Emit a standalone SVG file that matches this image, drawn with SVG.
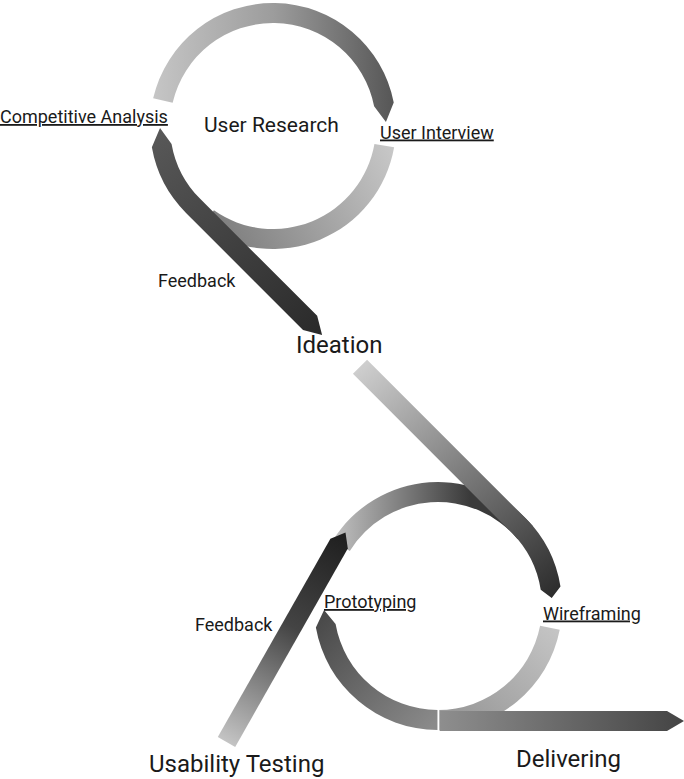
<svg xmlns="http://www.w3.org/2000/svg" width="684" height="779" viewBox="0 0 684 779">
<defs>
<style>
text{font-family:Roboto,"Liberation Sans",Arial,sans-serif;fill:#1a1a1a}
.u{text-decoration:underline}
.s{font-size:18px}
.m{font-size:21px}
.l{font-size:24px}
</style>
<linearGradient id="gA1" gradientUnits="userSpaceOnUse" x1="152" y1="80" x2="396" y2="80"><stop offset="0" stop-color="#c6c6c6"/><stop offset="0.5" stop-color="#9c9c9c"/><stop offset="1" stop-color="#555"/></linearGradient>
<linearGradient id="gA2" gradientUnits="userSpaceOnUse" x1="395" y1="150" x2="230" y2="240"><stop offset="0" stop-color="#c8c8c8"/><stop offset="1" stop-color="#808080"/></linearGradient>
<linearGradient id="gF1" gradientUnits="userSpaceOnUse" x1="160" y1="130" x2="320" y2="335"><stop offset="0" stop-color="#585858"/><stop offset="1" stop-color="#2a2a2a"/></linearGradient>
<linearGradient id="gBT" gradientUnits="userSpaceOnUse" x1="335" y1="520" x2="470" y2="520"><stop offset="0" stop-color="#c0c0c0"/><stop offset="1" stop-color="#3a3a3a"/></linearGradient>
<linearGradient id="gId" gradientUnits="userSpaceOnUse" x1="360" y1="365" x2="555" y2="600"><stop offset="0" stop-color="#cfcfcf"/><stop offset="0.5" stop-color="#7a7a7a"/><stop offset="1" stop-color="#2a2a2a"/></linearGradient>
<linearGradient id="gBR" gradientUnits="userSpaceOnUse" x1="555" y1="630" x2="470" y2="725"><stop offset="0" stop-color="#c4c4c4"/><stop offset="1" stop-color="#9a9a9a"/></linearGradient>
<linearGradient id="gBL" gradientUnits="userSpaceOnUse" x1="325" y1="615" x2="438" y2="720"><stop offset="0" stop-color="#4a4a4a"/><stop offset="1" stop-color="#8a8a8a"/></linearGradient>
<linearGradient id="gDel" gradientUnits="userSpaceOnUse" x1="440" y1="720" x2="684" y2="720"><stop offset="0" stop-color="#8e8e8e"/><stop offset="1" stop-color="#444"/></linearGradient>
<linearGradient id="gF2" gradientUnits="userSpaceOnUse" x1="226" y1="742" x2="345" y2="532"><stop offset="0" stop-color="#c4c4c4"/><stop offset="0.55" stop-color="#444"/><stop offset="1" stop-color="#1e1e1e"/></linearGradient>
</defs>
<g id="connectors">
<path id="research-top" fill="url(#gA1)" d="M 153.15 98.33 A 123 123 0 0 1 393.74 102.53 L 385.93 122.06 L 374.11 106.35 A 103 103 0 0 0 172.64 102.83 Z"/>
<path id="research-bottom" fill="url(#gA2)" d="M 394.13 147.36 A 123 123 0 0 1 202.45 226.76 L 213.92 210.37 A 103 103 0 0 0 374.44 143.89 Z"/>
<path id="feedback1" fill="url(#gF1)" d="M 151.87 147.36 L 160.02 127.97 L 171.56 143.89 A 103 103 0 0 0 200.17 198.83 L 317.17 315.83 L 322.1 334.9 L 303.03 329.97 L 186.03 212.97 A 123 123 0 0 1 151.87 147.36 Z"/>
<path id="proto-top" fill="url(#gBT)" d="M 332.84 540.29 A 124 124 0 0 1 532.99 526.29 L 517.67 539.15 A 104 104 0 0 0 349.80 550.89 Z"/>
<path id="ideation-band" fill="url(#gId)" d="M 367.08 359.72 L 525.68 518.32 A 124 124 0 0 1 560.47 586.60 L 551.72 598.05 L 540.72 589.73 A 104 104 0 0 0 511.54 532.46 L 352.94 373.86 Z"/>
<path id="wire-bottom" fill="url(#gBR)" d="M 559.72 629.66 A 124 124 0 0 1 438 730 L 438 710 A 104 104 0 0 0 540.09 625.84 Z"/>
<path id="proto-bottom" fill="url(#gBL)" d="M 437.5 730 A 124 124 0 0 1 315.88 627.53 L 324.07 609.98 L 335.58 624.06 A 104 104 0 0 0 437.5 710 Z"/>
<path id="delivering-arrow" fill="url(#gDel)" d="M 439.5 711 L 667 711 L 684 721 L 667 731 L 439.5 731 Z"/>
<line x1="438.6" y1="709" x2="438.6" y2="732" stroke="#fff" stroke-width="1.4"/>
<path id="feedback2" fill="url(#gF2)" d="M 217.8 737.06 L 330.4 538.8 L 345.5 532.4 L 347.8 548.6 L 235.2 746.94 Z"/>
</g>
<g id="competitive-analysis"><text class="s u" x="0" y="123">Competitive Analysis</text></g>
<g id="user-research"><text class="m" x="204" y="132">User Research</text></g>
<g id="user-interview"><text class="s u" x="380" y="138.5">User Interview</text></g>
<g id="feedback-top"><text class="s" x="158" y="287">Feedback</text></g>
<g id="ideation"><text class="l" x="296" y="353">Ideation</text></g>
<g id="prototyping"><text class="s u" x="324" y="608">Prototyping</text></g>
<g id="wireframing"><text class="s u" x="543" y="619.5">Wireframing</text></g>
<g id="feedback-bottom"><text class="s" x="195" y="631">Feedback</text></g>
<g id="usability-testing"><text class="l" x="149" y="772">Usability Testing</text></g>
<g id="delivering"><text class="l" x="516" y="766.5">Delivering</text></g>
</svg>
